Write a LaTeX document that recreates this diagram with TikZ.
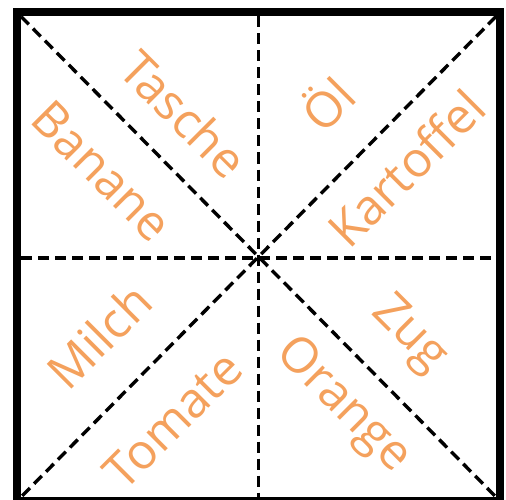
\documentclass[tikz,border=0pt]{standalone}
\usepackage{fontspec}
\setsansfont{Open Sans}
\usepackage{xcolor}
\usetikzlibrary{positioning}

\begin{document}
\begin{tikzpicture}[
  x=1pt, y=-1pt,
  line cap=butt,
  frame/.style={draw=black, line width=8pt},
  split/.style={draw=black, line width=3.4pt, dash pattern=on 11pt off 6pt},
  word/.style={font=\sffamily\fontsize{49}{49}\selectfont, text=wordorange, inner sep=0pt}
]
\definecolor{wordorange}{HTML}{F4A15D}
\useasboundingbox (0,0) rectangle (506,500);
\clip (0,0) rectangle (506,500);

% inner corners of the square and the centre
\coordinate (nw) at (21,16.5);
\coordinate (ne) at (496,16.5);
\coordinate (sw) at (21,497);
\coordinate (se) at (496,497);
\coordinate (n) at (258.5,16.5);
\coordinate (s) at (258.5,497);
\coordinate (w) at (21,258);
\coordinate (e) at (496,258);

% dashed partition
\draw[split] (nw) -- (se);
\draw[split] (ne) -- (sw);
\draw[split] (n) -- (s);
\draw[split] (w) -- (e);

% outer frame
\draw[frame] (17,12.5) rectangle (500,501);

% words
\node[word, rotate=-45] (tasche) at (184,114) {Tasche};
\node[word, rotate=-45] (banane) at (102,171) {Banane};
\node[word, rotate=45] (oel) at (326,102) {Öl};
\node[word, rotate=45] (kartoffel) at (406,168) {Kartoffel};
\node[word, rotate=45] (milch) at (99,336) {Milch};
\node[word, rotate=45] (tomate) at (173,420) {Tomate};
\node[word, rotate=-45] (orange) at (343,406) {Orange};
\node[word, rotate=-45] (zug) at (409,335) {Zug};
\end{tikzpicture}
\end{document}
